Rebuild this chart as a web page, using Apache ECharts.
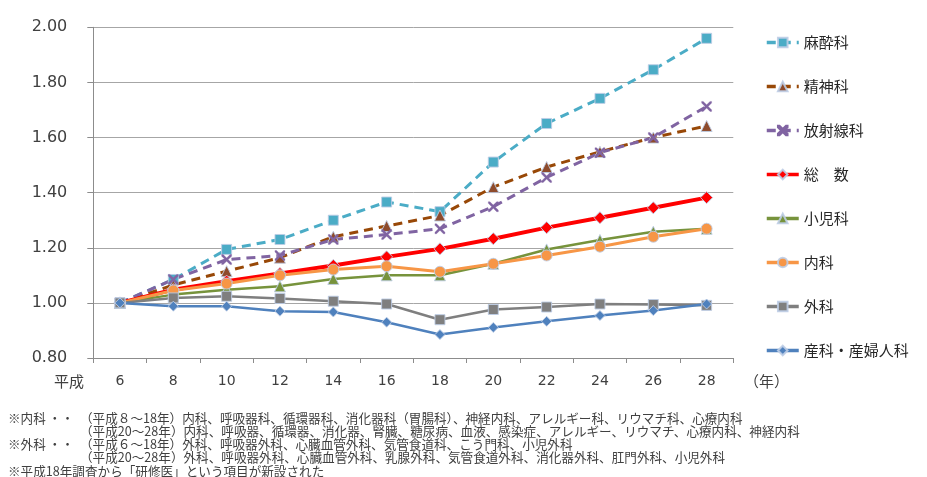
<!DOCTYPE html>
<html>
<head>
<meta charset="utf-8">
<script src="https://cdn.jsdelivr.net/npm/echarts@6/dist/echarts.min.js"></script>
<style>
html,body{margin:0;padding:0;background:#fff;}
#chart{width:927px;height:477px;}
</style>
</head>
<body>
<div id="chart"></div>
<script>
var years = ['6','8','10','12','14','16','18','20','22','24','26','28'];
var yTicks = { min: 0.8, max: 2.0, interval: 0.2 };

var masui    = [1.00, 1.085, 1.194, 1.230, 1.300, 1.366, 1.331, 1.511, 1.651, 1.742, 1.846, 1.960];
var seishin  = [1.00, 1.065, 1.115, 1.164, 1.240, 1.279, 1.317, 1.420, 1.493, 1.548, 1.600, 1.642];
var hoshasen = [1.00, 1.085, 1.157, 1.172, 1.230, 1.248, 1.269, 1.349, 1.455, 1.545, 1.600, 1.713];
var sosu     = [1.00, 1.048, 1.079, 1.107, 1.136, 1.167, 1.196, 1.233, 1.273, 1.309, 1.345, 1.382];
var shoni    = [1.00, 1.030, 1.048, 1.060, 1.087, 1.100, 1.100, 1.142, 1.194, 1.228, 1.258, 1.269];
var naika    = [1.00, 1.045, 1.070, 1.100, 1.121, 1.133, 1.113, 1.142, 1.172, 1.204, 1.240, 1.269];
var geka     = [1.00, 1.018, 1.024, 1.016, 1.006, 0.996, 0.939, 0.976, 0.985, 0.996, 0.994, 0.991];
var sanka    = [1.00, 0.988, 0.988, 0.970, 0.967, 0.930, 0.885, 0.911, 0.933, 0.954, 0.972, 0.996];

var seriesNames = ['麻酔科','精神科','放射線科','総　数','小児科','内科','外科','産科・産婦人科'];

var notes = [
  ['※内科 ・・', '（平成８～18年）内科、呼吸器科、循環器科、消化器科（胃腸科）、神経内科、アレルギー科、リウマチ科、心療内科'],
  ['', '（平成20～28年）内科、呼吸器、循環器、消化器、腎臓、糖尿病、血液、感染症、アレルギー、リウマチ、心療内科、神経内科'],
  ['※外科 ・・', '（平成６～18年）外科、呼吸器外科、心臓血管外科、気管食道科、こう門科、小児外科'],
  ['', '（平成20～28年）外科、呼吸器外科、心臓血管外科、乳腺外科、気管食道外科、消化器外科、肛門外科、小児外科'],
  ['※平成18年調査から「研修医」という項目が新設された', '']
];

var JP = '"Noto Sans CJK JP", sans-serif';
var xPath = 'path://M0,0 L1.6,0 L5,3.4 L8.4,0 L10,0 L10,1.6 L6.6,5 L10,8.4 L10,10 L8.4,10 L5,6.6 L1.6,10 L0,10 L0,8.4 L3.4,5 L0,1.6 Z';

function mk(name, data, color, symbol, size, width, dashed, markerColor) {
  return {
    name: name, type: 'line', data: data, symbol: symbol, symbolSize: size,
    lineStyle: { color: color, width: width, type: dashed ? [9, 6] : 'solid' },
    itemStyle: { color: markerColor || color, borderColor: symbol === xPath ? (markerColor || color) : 'rgba(190,205,230,0.9)', borderWidth: symbol === xPath ? 0.3 : 1 },
    emphasis: { disabled: true },
    animation: false
  };
}

var graphics = [
  { type: 'text', x: 54, y: 381, style: { text: '平成', font: '15px ' + JP, fill: '#404040', verticalAlign: 'middle' } },
  { type: 'text', x: 744, y: 381, style: { text: '（年）', font: '15px ' + JP, fill: '#404040', verticalAlign: 'middle' } }
];
var noteY = [418.5, 431.5, 444.5, 457.5, 471.5];
notes.forEach(function (n, i) {
  if (n[0]) graphics.push({ type: 'text', x: 8, y: noteY[i], style: { text: n[0], font: '12.6px ' + JP, fill: '#404040', verticalAlign: 'middle' } });
  if (n[1]) graphics.push({ type: 'text', x: 80, y: noteY[i], style: { text: n[1], font: '12.6px ' + JP, fill: '#404040', verticalAlign: 'middle' } });
});

var chart = echarts.init(document.getElementById('chart'), null, { renderer: 'canvas' });
chart.setOption({
  backgroundColor: '#fff',
  animation: false,
  grid: { left: 93.3, right: 193.7, top: 27.3, bottom: 119 },
  legend: {
    orient: 'vertical', left: 760, top: 30,
    itemWidth: 32, itemHeight: 12, itemGap: 29,
    data: seriesNames,
    lineStyle: { width: 3.5 },
    textStyle: { fontFamily: JP, fontSize: 15, color: '#262626' },
    selectedMode: false
  },
  xAxis: {
    type: 'category', data: years, boundaryGap: true,
    axisLine: { lineStyle: { color: '#8c8c8c', width: 1 } },
    axisTick: { show: true, length: 5, alignWithLabel: false, lineStyle: { color: '#8c8c8c' } },
    axisLabel: { fontFamily: '"DejaVu Sans", sans-serif', fontSize: 14, color: '#404040', margin: 16 },
    splitLine: { show: false }
  },
  yAxis: {
    type: 'value', min: yTicks.min, max: yTicks.max, interval: yTicks.interval,
    axisLine: { show: true, lineStyle: { color: '#8c8c8c', width: 1 } },
    axisTick: { show: true, length: 6, lineStyle: { color: '#8c8c8c' } },
    axisLabel: { fontFamily: '"DejaVu Sans", sans-serif', fontSize: 16, color: '#404040', margin: 26, formatter: function (v) { return v.toFixed(2); } },
    splitLine: { show: true, lineStyle: { color: '#a6a6a6', width: 1 } }
  },
  graphic: graphics,
  series: [
    mk(seriesNames[0], masui, '#4BACC6', 'rect', 10, 3, true, '#4BACC6'),
    mk(seriesNames[1], seishin, '#984807', 'triangle', 11, 3, true, '#8E4B2C'),
    mk(seriesNames[2], hoshasen, '#8064A2', xPath, 10, 3, true, '#8064A2'),
    mk(seriesNames[3], sosu, '#FF0000', 'diamond', 12, 4, false, '#FF0000'),
    mk(seriesNames[4], shoni, '#77933C', 'triangle', 11, 2.5, false, '#77933C'),
    mk(seriesNames[5], naika, '#F79646', 'circle', 11, 3, false, '#F79646'),
    mk(seriesNames[6], geka, '#7F7F7F', 'rect', 10, 2.5, false, '#7F7F7F'),
    mk(seriesNames[7], sanka, '#4F81BD', 'diamond', 10, 2.5, false, '#4F81BD')
  ]
});
</script>
</body>
</html>
